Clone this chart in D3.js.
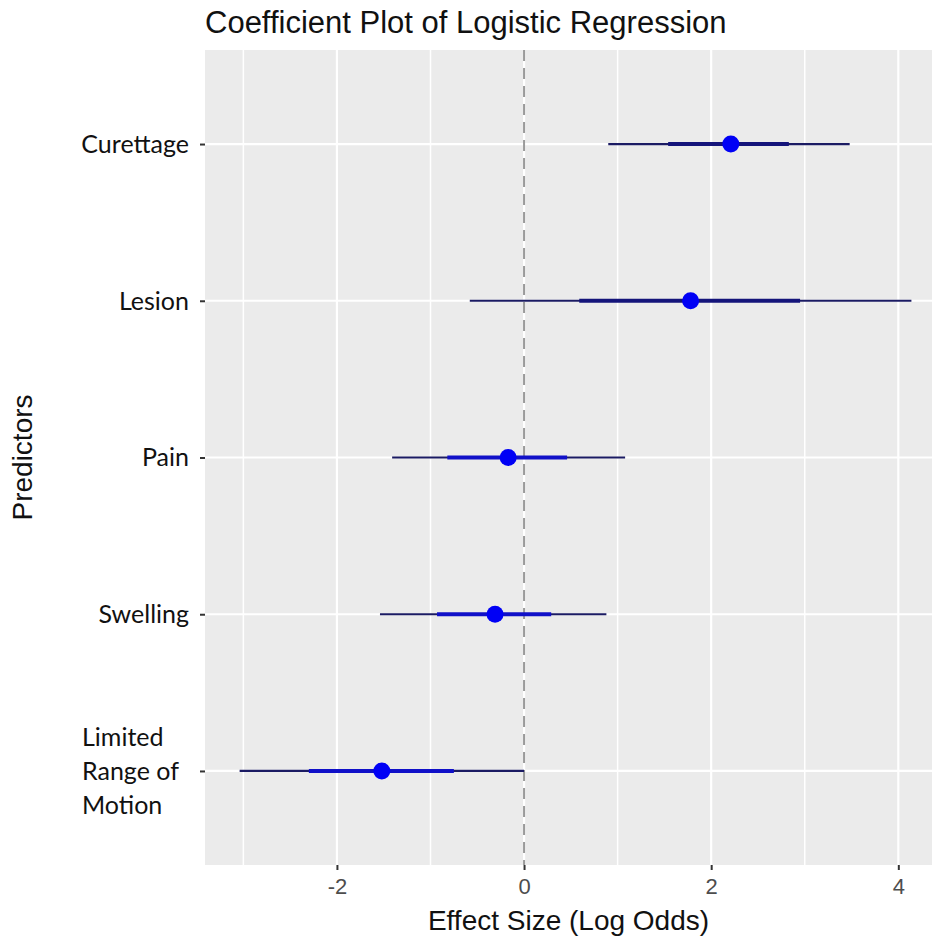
<!DOCTYPE html>
<html>
  <head><meta charset="utf-8"></head>
  <body style="margin:0;background:#fff;">
    <script src="https://d3js.org/d3.v7.min.js"></script>
    <script type="text/javascript">
      const width = 932;
      const height = 939;
      const margin = { top: 50, right: 0, bottom: 74, left: 205 };

      // data
      const predictors = ['Limited Range of Motion', 'Swelling', 'Pain', 'Lesion', 'Curettage'];
      const estimate = [-1.52, -0.31, -0.17, 1.78, 2.21];
      const innerLow = [-2.30, -0.93, -0.82, 0.59, 1.54];
      const innerHigh = [-0.75, 0.29, 0.46, 2.95, 2.83];
      const outerLow = [-3.04, -1.54, -1.41, -0.58, 0.90];
      const outerHigh = [0.00, 0.88, 1.08, 4.14, 3.48];
      const majorTicks = [-2, 0, 2, 4];
      const minorTicks = [-3, -1, 1, 3];
      const yLabelLines = {
        'Limited Range of Motion': ['Limited', 'Range of', 'Motion'],
        'Swelling': ['Swelling'],
        'Pain': ['Pain'],
        'Lesion': ['Lesion'],
        'Curettage': ['Curettage'],
      };

      const rows = predictors.map((p, i) => ({
        label: p,
        est: estimate[i],
        lo: innerLow[i],
        hi: innerHigh[i],
        lo2: outerLow[i],
        hi2: outerHigh[i],
      }));

      const x = d3.scaleLinear()
        .domain([-3.41, 4.36])
        .range([margin.left, width - margin.right]);
      const y = d3.scalePoint()
        .domain(predictors)
        .range([height - margin.bottom, margin.top])
        .padding(0.6);

      const svg = d3.select('body')
        .append('svg')
        .attr('width', width)
        .attr('height', height)
        .style('display', 'block');

      // panel
      svg.append('rect')
        .attr('x', margin.left)
        .attr('y', margin.top)
        .attr('width', width - margin.left - margin.right)
        .attr('height', height - margin.top - margin.bottom)
        .attr('fill', '#ebebeb');

      const grid = svg.append('g');
      grid.selectAll('.minor')
        .data(minorTicks)
        .enter()
        .append('line')
        .attr('x1', (d) => x(d)).attr('x2', (d) => x(d))
        .attr('y1', margin.top).attr('y2', height - margin.bottom)
        .attr('stroke', '#fff').attr('stroke-width', 1.5);
      grid.selectAll('.major')
        .data(majorTicks)
        .enter()
        .append('line')
        .attr('x1', (d) => x(d)).attr('x2', (d) => x(d))
        .attr('y1', margin.top).attr('y2', height - margin.bottom)
        .attr('stroke', '#fff').attr('stroke-width', 2.2);
      grid.selectAll('.hmajor')
        .data(predictors)
        .enter()
        .append('line')
        .attr('x1', margin.left).attr('x2', width - margin.right)
        .attr('y1', (d) => y(d)).attr('y2', (d) => y(d))
        .attr('stroke', '#fff').attr('stroke-width', 2.2);

      // zero reference
      svg.append('line')
        .attr('x1', x(0)).attr('x2', x(0))
        .attr('y1', margin.top).attr('y2', height - margin.bottom)
        .attr('stroke', '#9a9a9a')
        .attr('stroke-width', 2)
        .attr('stroke-dasharray', '11 7');

      const marks = svg.append('g');
      marks.selectAll('.outer')
        .data(rows)
        .enter()
        .append('line')
        .attr('x1', (d) => x(d.lo2)).attr('x2', (d) => x(d.hi2))
        .attr('y1', (d) => y(d.label)).attr('y2', (d) => y(d.label))
        .attr('stroke', '#1b1b63')
        .attr('stroke-width', 2.2);
      marks.selectAll('.inner')
        .data(rows)
        .enter()
        .append('line')
        .attr('x1', (d) => x(d.lo)).attr('x2', (d) => x(d.hi))
        .attr('y1', (d) => y(d.label)).attr('y2', (d) => y(d.label))
        .attr('stroke', (d) => d.est < 1 ? '#1010c8' : '#14147a')
        .attr('stroke-width', 4);
      marks.selectAll('circle')
        .data(rows)
        .enter()
        .append('circle')
        .attr('cx', (d) => x(d.est))
        .attr('cy', (d) => y(d.label))
        .attr('r', 8.5)
        .attr('fill', '#0000f5');

      // x axis
      const axisBottom = d3.axisBottom(x).tickValues(majorTicks).tickSize(5).tickPadding(8)
        .tickFormat((d) => String(d));
      const gx = svg.append('g')
        .attr('transform', `translate(0, ${height - margin.bottom})`)
        .call(axisBottom);
      gx.select('.domain').remove();
      gx.selectAll('.tick line').attr('stroke', '#333').attr('stroke-width', 2);
      gx.selectAll('.tick text')
        .attr('fill', '#4d4d4d')
        .style('font-family', '"Liberation Sans", Arial, sans-serif')
        .style('font-size', '22px');

      // y axis
      const axisLeft = d3.axisLeft(y).tickSize(5).tickFormat('');
      const gy = svg.append('g')
        .attr('transform', `translate(${margin.left}, 0)`)
        .call(axisLeft);
      gy.select('.domain').remove();
      gy.selectAll('.tick line').attr('stroke', '#333').attr('stroke-width', 2);

      const ylab = svg.append('g')
        .style('font-family', 'Lato, "Open Sans", sans-serif')
        .style('font-size', '25px')
        .attr('fill', '#111');
      predictors.forEach((p) => {
        const lines = yLabelLines[p];
        const multi = lines.length > 1;
        const t = ylab.append('text')
          .attr('y', y(p) - (lines.length - 1) * 17)
          .attr('text-anchor', multi ? 'start' : 'end');
        lines.forEach((l, i) => {
          t.append('tspan')
            .attr('x', multi ? 82 : 189)
            .attr('dy', i === 0 ? '0.35em' : 34)
            .text(l);
        });
      });

      // titles
      svg.append('text')
        .attr('x', margin.left)
        .attr('y', 33)
        .style('font-family', '"Liberation Sans", Arial, sans-serif')
        .style('font-size', '31px')
        .attr('fill', '#111')
        .text('Coefficient Plot of Logistic Regression');
      svg.append('text')
        .attr('x', (margin.left + width - margin.right) / 2)
        .attr('y', 930)
        .attr('text-anchor', 'middle')
        .style('font-family', '"Liberation Sans", Arial, sans-serif')
        .style('font-size', '28px')
        .attr('fill', '#111')
        .text('Effect Size (Log Odds)');
      svg.append('text')
        .attr('transform', `translate(32, ${(margin.top + height - margin.bottom) / 2}) rotate(-90)`)
        .attr('text-anchor', 'middle')
        .style('font-family', '"Liberation Sans", Arial, sans-serif')
        .style('font-size', '28px')
        .attr('fill', '#111')
        .text('Predictors');
    </script>
  </body>
</html>
